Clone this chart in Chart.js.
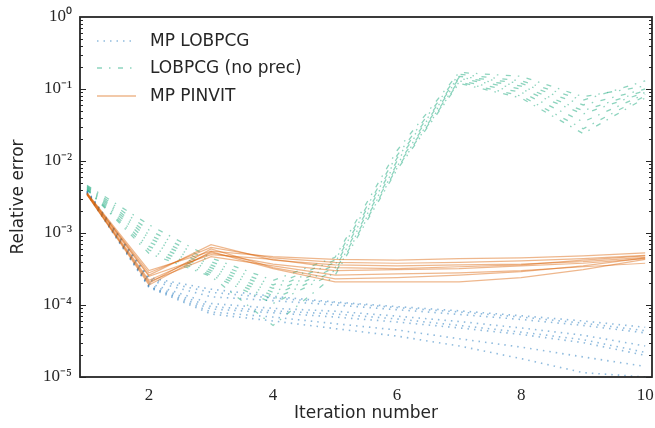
<!DOCTYPE html>
<html>
<head>
<meta charset="utf-8">
<script src="https://cdn.jsdelivr.net/npm/chart.js@4"></script>
<style>
  html, body { margin: 0; padding: 0; background: #fff; }
  #wrap { width: 655px; height: 428px; position: relative; }
</style>
</head>
<body>
<div id="wrap"><canvas id="chart"></canvas></div>
<script>
const iterations = [1, 2, 3, 4, 5, 6, 7, 8, 9, 10];

// MP LOBPCG runs (dotted blue)
const mpLobpcg = [
  [3.8e-3, 2.4e-4, 1.66e-4, 1.32e-4, 1.1e-4, 9.5e-5, 8.3e-5, 7.1e-5, 6.0e-5, 4.9e-5],
  [3.9e-3, 2.3e-4, 1.5e-4, 1.25e-4, 1.08e-4, 9.2e-5, 8.0e-5, 6.8e-5, 5.6e-5, 4.4e-5],
  [3.8e-3, 2.2e-4, 1.3e-4, 1.15e-4, 1.0e-4, 8.6e-5, 7.4e-5, 6.3e-5, 5.2e-5, 4.1e-5],
  [3.7e-3, 2.0e-4, 1.05e-4, 9.0e-5, 8.2e-5, 7.0e-5, 5.9e-5, 4.8e-5, 3.8e-5, 2.7e-5],
  [3.7e-3, 1.9e-4, 9.5e-5, 8.3e-5, 7.5e-5, 6.4e-5, 5.2e-5, 4.2e-5, 3.3e-5, 2.2e-5],
  [3.6e-3, 1.8e-4, 8.8e-5, 7.8e-5, 6.8e-5, 5.8e-5, 4.8e-5, 3.9e-5, 3.0e-5, 2.0e-5],
  [3.6e-3, 1.8e-4, 8.0e-5, 6.8e-5, 5.5e-5, 4.5e-5, 3.4e-5, 2.6e-5, 1.9e-5, 1.4e-5],
  [3.5e-3, 1.75e-4, 7.5e-5, 6.0e-5, 4.7e-5, 3.7e-5, 2.7e-5, 1.8e-5, 1.15e-5, 1.0e-5]
];

// LOBPCG without preconditioner (dash-dot teal)
const lobpcgNoPrec = [
  [4.6e-3, 1.3e-3, 4.5e-4, 2.2e-4, 4.6e-4, 1.4e-2, 0.17, 0.15, 0.078, 0.11],
  [4.5e-3, 1.1e-3, 4.0e-4, 1.9e-4, 4.2e-4, 1.2e-2, 0.16, 0.13, 0.07, 0.13],
  [4.4e-3, 9.5e-4, 3.6e-4, 1.7e-4, 3.9e-4, 1.1e-2, 0.15, 0.12, 0.06, 0.10],
  [4.3e-3, 8.5e-4, 3.3e-4, 1.5e-4, 3.6e-4, 1.0e-2, 0.145, 0.11, 0.05, 0.095],
  [4.2e-3, 7.5e-4, 3.0e-4, 1.35e-4, 3.3e-4, 9.0e-3, 0.14, 0.10, 0.045, 0.09],
  [4.1e-3, 6.5e-4, 2.8e-4, 1.2e-4, 3.0e-4, 8.5e-3, 0.13, 0.09, 0.035, 0.085],
  [4.0e-3, 5.8e-4, 2.6e-4, 1.05e-4, 2.8e-4, 8.0e-3, 0.125, 0.08, 0.028, 0.08],
  [4.0e-3, 5.2e-4, 2.5e-4, 5.2e-5, 2.6e-4, 7.6e-3, 0.12, 0.075, 0.024, 0.075]
];

// MP PINVIT runs (solid orange)
const mpPinvit = [
  [3.6e-3, 3.0e-4, 5.6e-4, 4.7e-4, 4.3e-4, 4.2e-4, 4.4e-4, 4.5e-4, 4.8e-4, 5.3e-4],
  [3.5e-3, 2.8e-4, 6.3e-4, 4.5e-4, 3.9e-4, 3.8e-4, 3.9e-4, 4.1e-4, 4.4e-4, 4.9e-4],
  [3.6e-3, 2.6e-4, 6.9e-4, 4.2e-4, 3.6e-4, 3.5e-4, 3.6e-4, 3.7e-4, 4.0e-4, 4.6e-4],
  [3.5e-3, 2.5e-4, 5.0e-4, 4.3e-4, 3.3e-4, 3.2e-4, 3.4e-4, 3.6e-4, 4.2e-4, 4.8e-4],
  [3.5e-3, 2.2e-4, 5.3e-4, 3.7e-4, 3.0e-4, 3.1e-4, 3.2e-4, 3.5e-4, 3.8e-4, 4.4e-4],
  [3.4e-3, 2.1e-4, 4.7e-4, 3.5e-4, 2.6e-4, 2.7e-4, 2.8e-4, 3.0e-4, 3.4e-4, 3.8e-4],
  [3.4e-3, 2.0e-4, 6.0e-4, 3.3e-4, 2.3e-4, 2.4e-4, 2.6e-4, 2.9e-4, 3.5e-4, 4.5e-4],
  [3.4e-3, 1.9e-4, 5.5e-4, 3.2e-4, 2.1e-4, 2.1e-4, 2.1e-4, 2.4e-4, 3.1e-4, 4.3e-4]
];

const xTicks = [2, 4, 6, 8, 10];
const yTicks = [1e-5, 1e-4, 1e-3, 1e-2, 1e-1, 1];
const yTickLabels = ["10⁻⁵", "10⁻⁴", "10⁻³", "10⁻²", "10⁻¹", "10⁰"];

const seriesNames = ["MP LOBPCG", "LOBPCG (no prec)", "MP PINVIT"];
const BLUE = "rgba(31,120,190,0.5)";
const TEAL = "rgba(27,170,125,0.5)";
const ORANGE = "rgba(217,95,2,0.45)";
const DOT = [1.5, 5];
const DASHDOT = [5, 7, 1.5, 7.5];
const INK = "#262626";

function makeSets(runs, color, dash, width) {
  return runs.map(r => ({
    data: r.map((v, i) => ({ x: iterations[i], y: v })),
    borderColor: color,
    borderWidth: width,
    borderDash: dash,
    pointRadius: 0,
    tension: 0,
    fill: false
  }));
}

// dataset 0 is drawn on top in Chart.js, so orange goes first
const datasets = [
  ...makeSets(mpPinvit, ORANGE, [], 1.2),
  ...makeSets(lobpcgNoPrec, TEAL, DASHDOT, 1.3),
  ...makeSets(mpLobpcg, BLUE, DOT, 1.6)
];

const frameAndLegend = {
  id: "frameAndLegend",
  afterDraw(chart) {
    const ctx = chart.ctx;
    const a = chart.chartArea;
    const ys = chart.scales.y;
    ctx.save();
    ctx.strokeStyle = INK;
    ctx.lineWidth = 1;
    // inner log ticks on left and right
    for (let e = -5; e < 0; e++) {
      for (let k = 1; k <= 9; k++) {
        const v = k * Math.pow(10, e);
        const py = Math.round(ys.getPixelForValue(v)) + 0.5;
        const len = k === 1 ? 6 : 3;
        ctx.beginPath();
        ctx.moveTo(a.left, py); ctx.lineTo(a.left + len, py);
        ctx.moveTo(a.right, py); ctx.lineTo(a.right - len, py);
        ctx.stroke();
      }
    }
    ctx.lineWidth = 1.8;
    ctx.strokeRect(a.left, a.top, a.right - a.left, a.bottom - a.top);

    // legend in the upper left
    const items = [
      [BLUE, DOT, 1.6], [TEAL, DASHDOT, 1.3], [ORANGE, [], 1.5]
    ];
    const rows = [41, 68, 96];
    ctx.font = "17px 'DejaVu Sans'";
    ctx.textBaseline = "middle";
    items.forEach((it, i) => {
      ctx.strokeStyle = it[0];
      ctx.lineWidth = it[2];
      ctx.setLineDash(it[1]);
      ctx.beginPath();
      ctx.moveTo(97, rows[i]); ctx.lineTo(136, rows[i]);
      ctx.stroke();
      ctx.setLineDash([]);
      ctx.fillStyle = INK;
      ctx.fillText(seriesNames[i], 150, rows[i] + 1);
    });
    ctx.restore();
  }
};

new Chart(document.getElementById("chart"), {
  type: "line",
  data: { datasets },
  options: {
    responsive: true,
    maintainAspectRatio: false,
    animation: false,
    layout: { padding: { top: 17, right: 3, left: 0, bottom: 0 } },
    plugins: { legend: { display: false }, tooltip: { enabled: false } },
    scales: {
      x: {
        type: "linear",
        min: 0.887,
        max: 10.11,
        afterBuildTicks: s => { s.ticks = xTicks.map(v => ({ value: v })); },
        afterFit: s => { s.height = 51; s.paddingLeft = 0; s.paddingRight = 0; },
        grid: { display: false, drawTicks: false },
        border: { display: false },
        ticks: {
          padding: 8,
          color: INK,
          font: { family: "'Liberation Serif'", size: 17 },
          maxRotation: 0
        },
        title: {
          display: true,
          text: "Iteration number",
          color: INK,
          font: { family: "'DejaVu Sans'", size: 17 },
          padding: { top: 0, bottom: 4 }
        }
      },
      y: {
        type: "logarithmic",
        min: 1e-5,
        max: 1,
        afterBuildTicks: s => { s.ticks = yTicks.map(v => ({ value: v, major: true })); },
        afterFit: s => { s.width = 80; s.paddingTop = 0; s.paddingBottom = 0; },
        grid: { display: false, drawTicks: false },
        border: { display: false },
        ticks: {
          padding: 8,
          color: INK,
          font: { family: "'Liberation Serif'", size: 17 },
          autoSkip: false,
          callback: v => {
            const i = yTicks.findIndex(t => Math.abs(Math.log10(t) - Math.log10(v)) < 1e-6);
            return i >= 0 ? yTickLabels[i] : "";
          }
        },
        title: {
          display: true,
          text: "Relative error",
          color: INK,
          font: { family: "'DejaVu Sans'", size: 17 },
          padding: { top: 8, bottom: 0 }
        }
      }
    }
  },
  plugins: [frameAndLegend]
});
</script>
</body>
</html>
